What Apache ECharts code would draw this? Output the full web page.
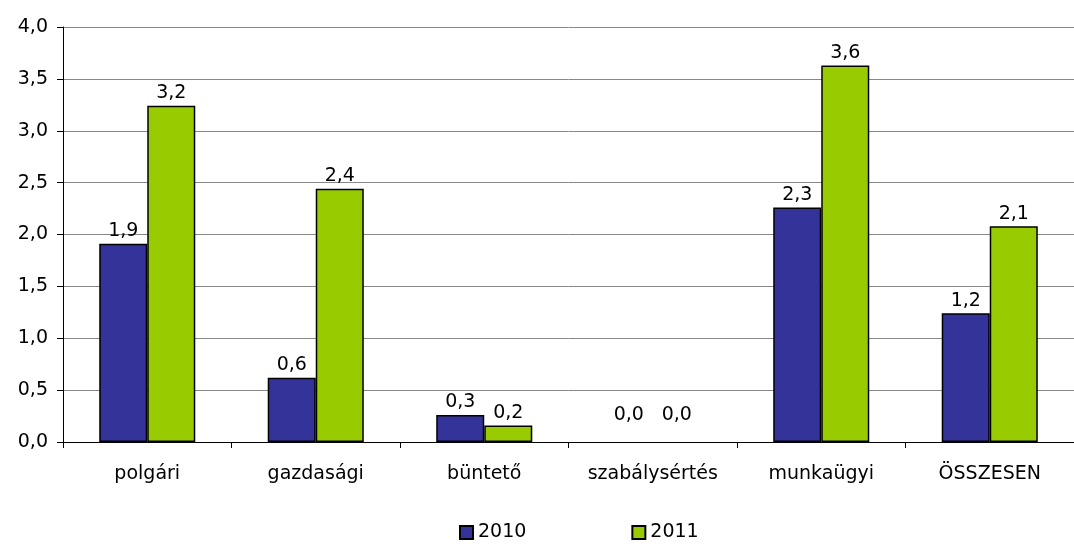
<!DOCTYPE html>
<html>
<head>
<meta charset="utf-8">
<script src="https://cdn.jsdelivr.net/npm/echarts@6/dist/echarts.min.js"></script>
<style>
  html, body { margin: 0; padding: 0; background: #fff; }
  #chart { width: 1074px; height: 547px; }
</style>
</head>
<body>
<div id="chart"></div>
<script>
const categories = ['polgári', 'gazdasági', 'büntető', 'szabálysértés', 'munkaügyi', 'ÖSSZESEN']
const values2010 = [1.91, 0.62, 0.26, 0, 2.26, 1.24]
const values2011 = [3.24, 2.44, 0.16, 0, 3.63, 2.08]
const yTicks = [0, 0.5, 1, 1.5, 2, 2.5, 3, 3.5, 4]

const fmt = (v) => Number(v).toFixed(1).replace('.', ',')
const font = 'DejaVu Sans, Liberation Sans, Arial, sans-serif'

const chart = echarts.init(document.getElementById('chart'))

const labelStyle = {
  show: true,
  position: 'top',
  distance: 3,
  color: '#000',
  fontSize: 19,
  fontFamily: font,
  formatter: (p) => fmt(p.value)
}

// zero bars: no outline, label sits a bit higher like in the original
const toItems = (arr) => arr.map(v => v === 0
  ? { value: v, itemStyle: { borderWidth: 0 }, label: { distance: 17 } }
  : v)

const option = {
  animation: false,
  textStyle: { fontFamily: font },
  grid: {
    left: 63,
    right: -14,
    top: 27,
    bottom: 105
  },
  legend: {
    bottom: 0,
    left: 454,
    itemWidth: 13,
    itemHeight: 13,
    itemGap: 105,
    icon: 'rect',
    textStyle: { fontSize: 19, color: '#000', fontFamily: font },
    data: ['2010', '2011']
  },
  xAxis: {
    type: 'category',
    data: categories,
    axisLine: { lineStyle: { color: '#000' } },
    axisTick: { show: true, interval: 0, length: 6, lineStyle: { color: '#000' } },
    axisLabel: { interval: 0, color: '#000', fontSize: 19, margin: 23, fontFamily: font }
  },
  yAxis: {
    type: 'value',
    min: yTicks[0],
    max: yTicks[yTicks.length - 1],
    interval: 0.5,
    axisLine: { show: true, lineStyle: { color: '#000' } },
    axisTick: { show: true, length: 6, lineStyle: { color: '#000' } },
    axisLabel: { color: '#000', fontSize: 19, margin: 15, fontFamily: font, formatter: fmt },
    splitLine: { lineStyle: { color: '#888', width: 1 } }
  },
  series: [
    {
      name: '2010',
      type: 'bar',
      data: toItems(values2010),
      barGap: '0%',
      barCategoryGap: '43%',
      itemStyle: { color: '#333399', borderColor: '#000', borderWidth: 1.5 },
      label: labelStyle
    },
    {
      name: '2011',
      type: 'bar',
      data: toItems(values2011),
      itemStyle: { color: '#99CC00', borderColor: '#000', borderWidth: 1.5 },
      label: labelStyle
    }
  ]
}

chart.setOption(option)
window.addEventListener('resize', () => chart.resize())
</script>
</body>
</html>
